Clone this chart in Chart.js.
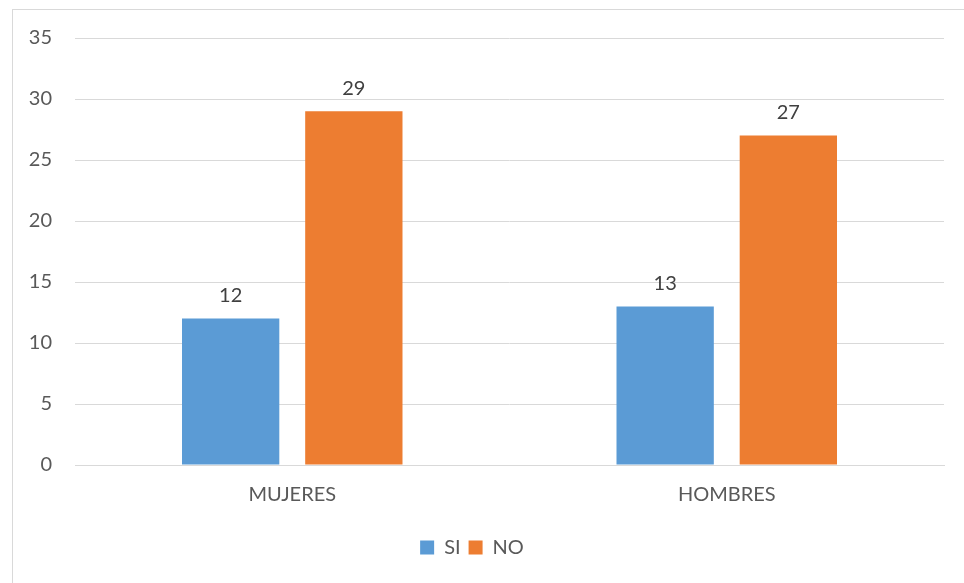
<!DOCTYPE html>
<html>
<head>
<meta charset="utf-8">
<script src="https://cdn.jsdelivr.net/npm/chart.js@4/dist/chart.umd.min.js"></script>
<style>
  html, body { margin: 0; padding: 0; background: #fff; }
  #wrap { position: relative; width: 964px; height: 583px; }
</style>
</head>
<body>
<div id="wrap"><canvas id="c" width="964" height="583"></canvas></div>
<script>
const categories = ["MUJERES", "HOMBRES"];
const seriesNames = ["SI", "NO"];
const siValues = [12, 13];
const noValues = [29, 27];
const yTicks = [0, 5, 10, 15, 20, 25, 30, 35];

const FONT = "Lato, 'Liberation Sans', sans-serif";
const TXT = "#595959";

const borderPlugin = {
  id: "frame",
  afterDraw(chart) {
    const ctx = chart.ctx;
    ctx.save();
    ctx.strokeStyle = "#d9d9d9";
    ctx.lineWidth = 1;
    ctx.strokeRect(12.5, 9.5, 960, 600);
    ctx.restore();
  }
};

const valueLabels = {
  id: "valueLabels",
  afterDatasetsDraw(chart) {
    const ctx = chart.ctx;
    ctx.save();
    ctx.font = "20px " + FONT;
    ctx.fillStyle = "#404040";
    ctx.textAlign = "center";
    ctx.textBaseline = "middle";
    chart.data.datasets.forEach((ds, i) => {
      chart.getDatasetMeta(i).data.forEach((bar, j) => {
        ctx.fillText(String(ds.data[j]), bar.x, bar.y - 23);
      });
    });
    ctx.restore();
  }
};

new Chart(document.getElementById("c"), {
  type: "bar",
  data: {
    labels: categories,
    datasets: [
      { label: seriesNames[0], data: siValues, backgroundColor: "#5B9BD5", borderWidth: 0 },
      { label: seriesNames[1], data: noValues, backgroundColor: "#ED7D31", borderWidth: 0 }
    ]
  },
  options: {
    responsive: false,
    animation: false,
    devicePixelRatio: 1,
    categoryPercentage: 0.567,
    barPercentage: 0.79,
    layout: { padding: { left: 0, right: 20, top: 38, bottom: 15.5 } },
    plugins: {
      tooltip: { enabled: false },
      legend: {
        position: "bottom",
        labels: {
          font: { family: FONT, size: 20 },
          color: TXT,
          boxWidth: 14,
          boxHeight: 14,
          padding: 8
        }
      }
    },
    scales: {
      x: {
        grid: { display: false, drawTicks: false },
        border: { display: true, color: "#d9d9d9", width: 1 },
        ticks: { font: { family: FONT, size: 20 }, color: TXT, padding: 18 },
        afterFit(s) { s.height = 64.5; }
      },
      y: {
        min: 0, max: 35,
        afterBuildTicks(s) { s.ticks = yTicks.map(v => ({ value: v })); },
        grid: { color: "#d9d9d9", drawTicks: false, lineWidth: 1 },
        border: { display: false },
        ticks: { font: { family: FONT, size: 20 }, color: TXT, padding: 23 },
        afterFit(s) { s.width = 75; }
      }
    }
  },
  plugins: [borderPlugin, valueLabels]
});
</script>
</body>
</html>
